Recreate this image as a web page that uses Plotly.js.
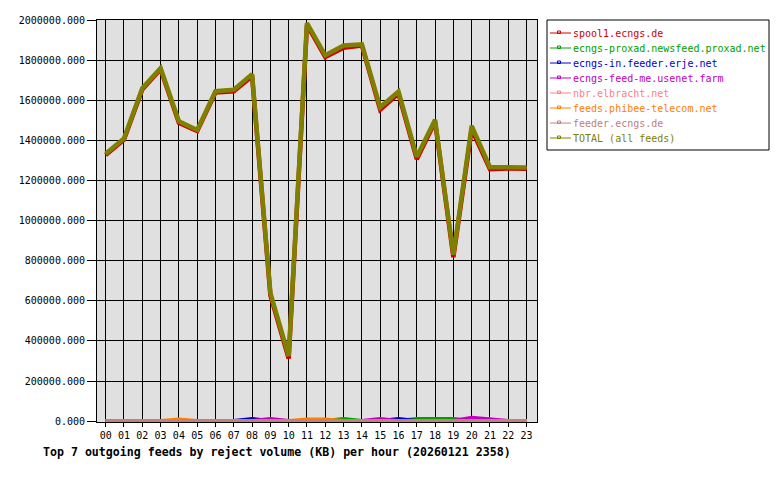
<!DOCTYPE html>
<html>
<head>
<meta charset="utf-8">
<script src="https://cdn.plot.ly/plotly-3.0.1.min.js"></script>
<style>
html,body{margin:0;padding:0;background:#fff;}
#chart{width:780px;height:480px;}
</style>
</head>
<body>
<div id="chart"></div>
<script>
// ---- data ----
const hours = [0,1,2,3,4,5,6,7,8,9,10,11,12,13,14,15,16,17,18,19,20,21,22,23];
const hourLabels = ["00","01","02","03","04","05","06","07","08","09","10","11","12","13","14","15","16","17","18","19","20","21","22","23"];
const seriesNames = [
  "spool1.ecngs.de",
  "ecngs-proxad.newsfeed.proxad.net",
  "ecngs-in.feeder.erje.net",
  "ecngs-feed-me.usenet.farm",
  "nbr.elbracht.net",
  "feeds.phibee-telecom.net",
  "feeder.ecngs.de",
  "TOTAL (all feeds)"
];
const spool1   = [1327000,1404000,1654000,1754000,1487000,1446000,1639000,1645000,1720000,628000,312000,1975000,1815000,1862000,1873000,1553000,1633000,1306000,1493000,818000,1455000,1256000,1260000,1259000];
const proxad   = [0,0,0,0,0,0,0,0,0,0,0,0,0,10000,0,0,0,10000,10000,10000,0,0,0,0];
const erje     = [0,0,0,0,0,0,0,0,10000,0,0,0,0,0,0,0,10000,0,0,0,0,0,0,0];
const usenetfarm = [0,0,0,0,0,0,0,0,0,10000,0,0,0,0,0,10000,0,0,0,0,16000,10000,0,0];
const elbracht = [0,0,0,0,0,0,0,0,0,0,0,0,0,0,0,0,0,0,0,0,0,0,0,0];
const phibee   = [0,0,0,0,7000,0,0,0,0,0,0,7000,7000,0,0,0,0,0,0,0,0,0,0,0];
const feederEcngs = [0,0,0,0,0,0,0,0,0,0,0,0,0,0,0,0,0,0,0,0,0,0,0,0];
const total    = [1333000,1410000,1660000,1760000,1495000,1452000,1645000,1652000,1730000,640000,325000,1985000,1824000,1873000,1879000,1565000,1643000,1318000,1503000,830000,1472000,1266000,1266000,1265000];
const seriesColors = ["#d00000","#00a000","#0000d0","#c000c0","#ff8080","#ff8000","#c08080","#808000"];
const titleText = "Top 7 outgoing feeds by reject volume (KB) per hour (20260121 2358)";

const seriesValues = [spool1, proxad, erje, usenetfarm, elbracht, phibee, feederEcngs, total];

// ---- layout geometry (pixels) ----
const W = 780, H = 480;
const plotL = 97, plotR = 537, plotT = 20, plotB = 422;
const pw = plotR - plotL, ph = plotB - plotT;
const px2x = p => (p - plotL) / pw;
const py2y = p => (plotB - p) / ph;

const mono = "DejaVu Sans Mono, Liberation Mono, monospace";

const traces = seriesNames.map((name, i) => ({
  type: "scatter",
  mode: "lines",
  x: hours,
  y: seriesValues[i],
  name: name,
  line: {color: seriesColors[i], width: 4.5},
  hoverinfo: "skip",
  showlegend: false
}));

// custom legend (box, symbols, labels)
const shapes = [];
const annotations = [];
const legL = 547, legR = 769, legT = 20, legB = 150;
shapes.push({type: "rect", xref: "paper", yref: "paper",
  x0: px2x(legL), x1: px2x(legR), y0: py2y(legT), y1: py2y(legB),
  line: {color: "#000", width: 1}, fillcolor: "#fff", layer: "below"});
seriesNames.forEach((name, i) => {
  const cy = 33 + i * 15;
  shapes.push({type: "line", xref: "paper", yref: "paper",
    x0: px2x(550), x1: px2x(571), y0: py2y(cy), y1: py2y(cy),
    line: {color: seriesColors[i], width: 1}});
  shapes.push({type: "rect", xref: "paper", yref: "paper",
    x0: px2x(557.5), x1: px2x(560.5), y0: py2y(cy - 2), y1: py2y(cy + 0.5),
    line: {color: seriesColors[i], width: 1}, fillcolor: "rgba(0,0,0,0)"});
  annotations.push({xref: "paper", yref: "paper", x: px2x(572), y: py2y(cy),
    xanchor: "left", yanchor: "middle", showarrow: false, text: name,
    font: {family: mono, size: 10, color: seriesColors[i]}, borderpad: 0});
});

const layout = {
  width: W, height: H,
  margin: {l: plotL, r: W - plotR, t: plotT, b: H - plotB, pad: 0},
  paper_bgcolor: "#ffffff",
  plot_bgcolor: "#e0e0e0",
  showlegend: false,
  title: {
    text: titleText,
    font: {family: mono, size: 11.6, color: "#000", weight: "bold"},
    xref: "container", yref: "container",
    x: 43 / W, xanchor: "left",
    y: 1 - 452 / H, yanchor: "middle"
  },
  xaxis: {
    range: [-0.475, 23.57],
    tickmode: "array", tickvals: hours, ticktext: hourLabels,
    showgrid: true, gridcolor: "#000", gridwidth: 1,
    zeroline: false,
    showline: true, linecolor: "#000", linewidth: 1, mirror: true,
    ticks: "outside", ticklen: 4, tickcolor: "#000", tickwidth: 1,
    tickfont: {family: mono, size: 10, color: "#000"},
    fixedrange: true
  },
  yaxis: {
    range: [-4000, 2000000],
    tickmode: "linear", tick0: 0, dtick: 200000,
    tickformat: ".3f",
    showgrid: true, gridcolor: "#000", gridwidth: 1,
    zeroline: false,
    showline: true, linecolor: "#000", linewidth: 1, mirror: true,
    ticks: "outside", ticklen: 9, tickcolor: "#000", tickwidth: 1,
    tickfont: {family: mono, size: 10, color: "#000"},
    fixedrange: true
  },
  shapes: shapes,
  annotations: annotations
};

Plotly.newPlot("chart", traces, layout, {displayModeBar: false, staticPlot: true});
</script>
</body>
</html>
